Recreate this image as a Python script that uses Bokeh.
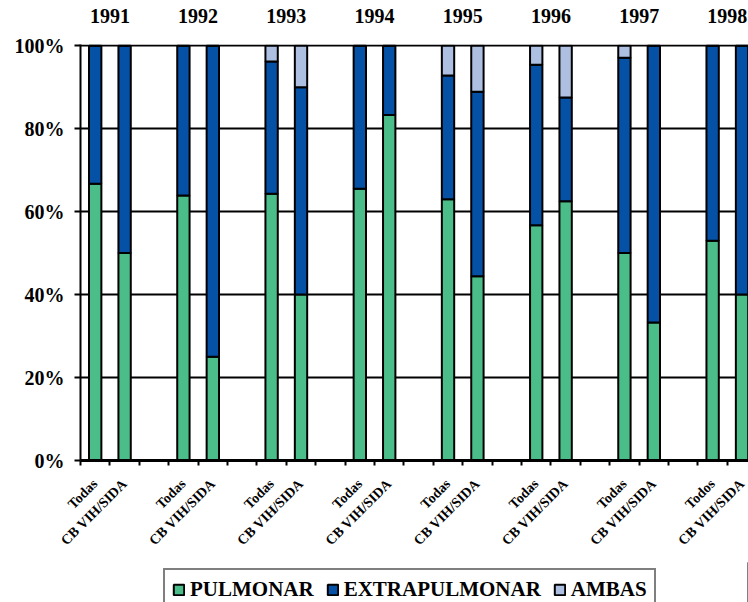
from bokeh.plotting import figure
from bokeh.models import Legend, LegendItem, FixedTicker, Range1d, ColumnDataSource, LinearAxis
from bokeh.layouts import column
from bokeh.embed import file_html
from bokeh.resources import INLINE
import math

years = ["1991", "1992", "1993", "1994", "1995", "1996", "1997", "1998"]
first_labels = ["Todas", "Todas", "Todas", "Todas", "Todas", "Todas", "Todas", "Todos"]
second_label = "CB VIH/SIDA"

# order: for each year, [first group, CB VIH/SIDA]
pulmonar = [66.7, 50.0, 63.9, 25.0, 64.3, 40.0, 65.5, 83.3,
            63.0, 44.4, 56.7, 62.5, 50.0, 33.3, 53.0, 40.0]
extrapulmonar = [33.3, 50.0, 36.1, 75.0, 31.9, 50.0, 34.5, 16.7,
                 29.8, 44.5, 38.7, 25.0, 47.1, 66.7, 47.0, 60.0]
ambas = [0.0, 0.0, 0.0, 0.0, 3.8, 10.0, 0.0, 0.0,
         7.2, 11.1, 4.6, 12.5, 2.9, 0.0, 0.0, 0.0]

y_ticks = [0, 20, 40, 60, 80, 100]
y_tick_labels = ["0%", "20%", "40%", "60%", "80%", "100%"]

series_names = ["PULMONAR", "EXTRAPULMONAR", "AMBAS"]
colors = ["#4BBD89", "#0451A6", "#ADC0E1"]

FONT = "Liberation Serif"

xs = []
cat_labels = []
for g in range(len(years)):
    xs.append(3 * g + 0.5)
    xs.append(3 * g + 1.5)
    cat_labels.append(first_labels[g])
    cat_labels.append(second_label)

src = ColumnDataSource(dict(x=xs, PULMONAR=pulmonar, EXTRAPULMONAR=extrapulmonar, AMBAS=ambas))

p = figure(width=748, height=562, x_range=Range1d(0, 22.72), y_range=Range1d(0, 100.3),
           output_backend="svg", toolbar_location=None, x_axis_location=None,
           min_border_left=80, min_border_top=44, min_border_bottom=102, min_border_right=0)

rs = p.vbar_stack(series_names, x="x", width=0.42, source=src, color=colors,
                  line_color="black", line_width=2)

p.outline_line_color = None
p.background_fill_color = "white"
p.xgrid.visible = False
p.ygrid.ticker = FixedTicker(ticks=y_ticks)
p.ygrid.grid_line_color = "black"
p.ygrid.grid_line_width = 2
p.ygrid.level = "underlay"

p.yaxis.ticker = FixedTicker(ticks=y_ticks)
p.yaxis.major_label_overrides = {t: l for t, l in zip(y_ticks, y_tick_labels)}
p.yaxis.major_label_text_font = FONT
p.yaxis.major_label_text_font_style = "bold"
p.yaxis.major_label_text_font_size = "20px"
p.yaxis.major_label_text_color = "black"
p.yaxis.axis_line_width = 2
p.yaxis.axis_line_color = "black"
p.yaxis.major_tick_line_width = 2
p.yaxis.major_tick_line_color = "black"
p.yaxis.major_tick_out = 6
p.yaxis.major_tick_in = 0
p.yaxis.minor_tick_line_color = None
p.yaxis.major_label_standoff = 10

# bottom axis: labels at bar centres, ticks (minor) at slot boundaries
xaxis = LinearAxis(ticker=FixedTicker(ticks=xs, minor_ticks=list(range(24))),
                   major_label_overrides={x: l for x, l in zip(xs, cat_labels)},
                   major_label_orientation=math.pi / 4,
                   major_label_text_font=FONT, major_label_text_font_style="bold",
                   major_label_text_font_size="14px", major_label_text_color="black",
                   major_label_standoff=16,
                   axis_line_width=3, axis_line_color="black",
                   major_tick_line_color=None, major_tick_out=0, major_tick_in=0,
                   minor_tick_line_color="black", minor_tick_line_width=2,
                   minor_tick_out=5, minor_tick_in=0)
p.add_layout(xaxis, "below")

# top axis carrying the year labels
yr_ticks = [3 * g + 1 for g in range(len(years))]
topaxis = LinearAxis(ticker=FixedTicker(ticks=yr_ticks),
                     major_label_overrides={x: l for x, l in zip(yr_ticks, years)},
                     major_label_text_font=FONT, major_label_text_font_style="bold",
                     major_label_text_font_size="20px", major_label_text_color="black",
                     major_label_standoff=16,
                     axis_line_color=None, major_tick_line_color=None,
                     minor_tick_line_color=None)
p.add_layout(topaxis, "above")

# legend in its own strip below the chart
lf = figure(width=748, height=40, x_range=Range1d(0, 1), y_range=Range1d(0, 1),
            output_backend="svg", toolbar_location=None,
            x_axis_location=None, y_axis_location=None, min_border=0)
lf.outline_line_color = None
lf.xgrid.visible = False
lf.ygrid.visible = False
lrs = lf.vbar_stack(series_names, x="x", width=0.42,
                    source=ColumnDataSource(dict(x=[5.0], PULMONAR=[1.0], EXTRAPULMONAR=[1.0], AMBAS=[1.0])),
                    color=colors, line_color="black", line_width=2)
legend = Legend(items=[LegendItem(label=n, renderers=[r]) for n, r in zip(series_names, lrs)],
                orientation="horizontal", location=(83, -9),
                border_line_color="black", border_line_width=2,
                label_text_font=FONT, label_text_font_style="bold", label_text_font_size="21px",
                label_text_color="black",
                glyph_width=13, glyph_height=13, label_standoff=5, spacing=12,
                padding=7, margin=0, background_fill_alpha=1)
lf.add_layout(legend)

open("out.html", "w").write(file_html(column(p, lf), INLINE))
